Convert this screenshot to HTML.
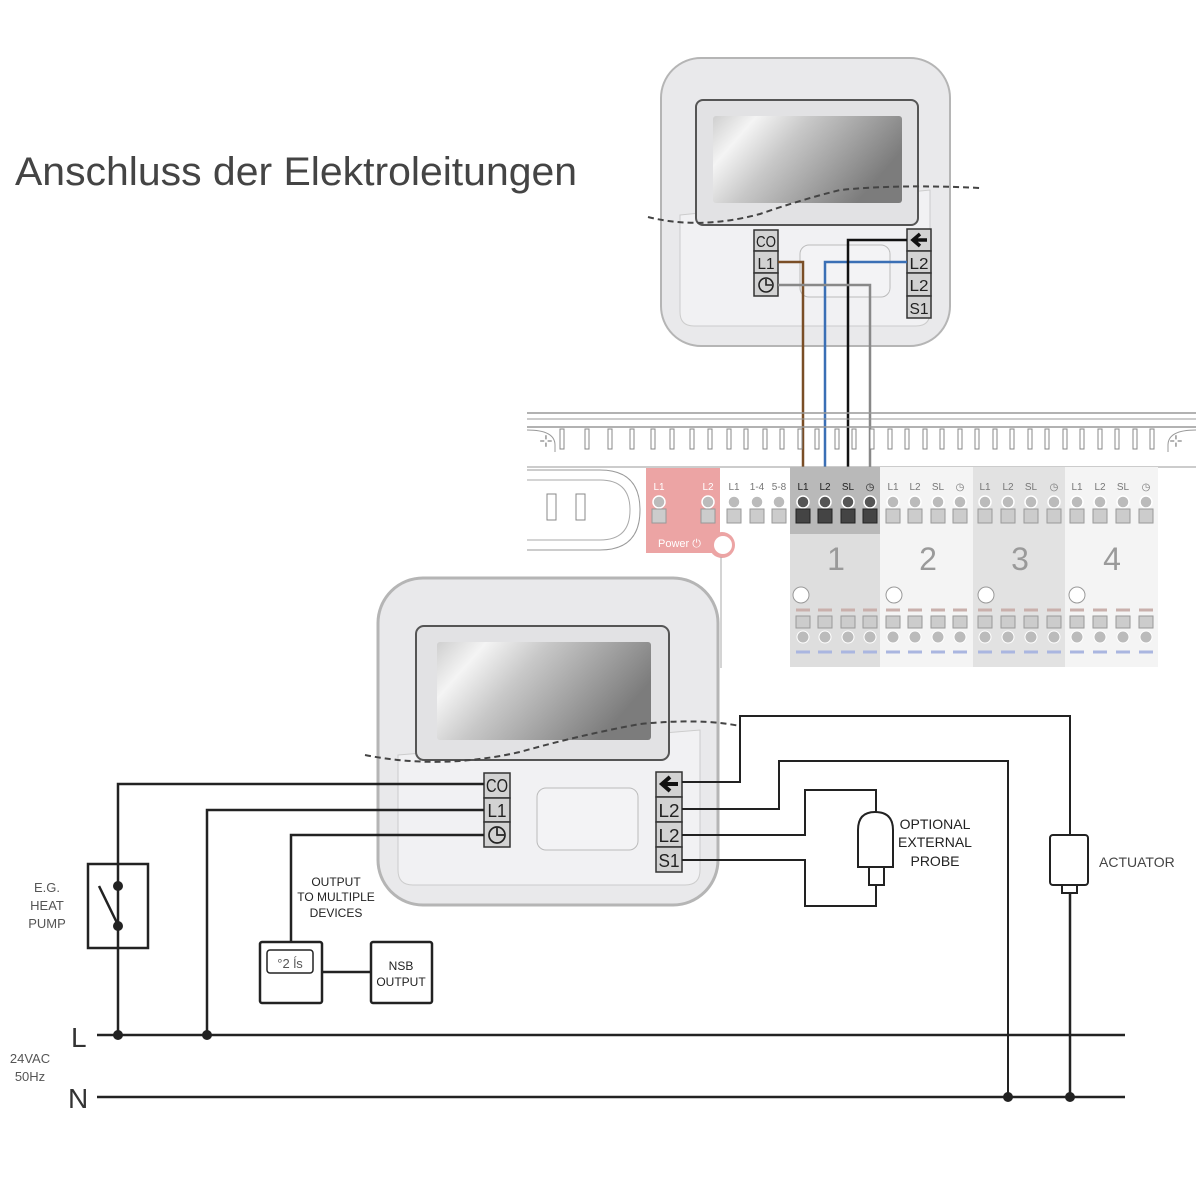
<!DOCTYPE html>
<html><head><meta charset="utf-8"><style>html,body{margin:0;padding:0;background:#fff}svg{display:block}</style></head>
<body>
<svg width="1200" height="1200" viewBox="0 0 1200 1200" xmlns="http://www.w3.org/2000/svg" font-family="Liberation Sans, sans-serif">
<defs>
<linearGradient id="scr" x1="0" y1="0" x2="1" y2="0.4">
<stop offset="0" stop-color="#cfcfcf"/><stop offset="0.2" stop-color="#f4f4f4"/><stop offset="0.45" stop-color="#c8c8c8"/><stop offset="1" stop-color="#7c7c7c"/>
</linearGradient>
</defs>
<rect width="1200" height="1200" fill="#fff"/>
<text x="15" y="185" font-size="40" fill="#444" textLength="562" lengthAdjust="spacingAndGlyphs">Anschluss der Elektroleitungen</text>

<!-- TOP DEVICE -->
<rect x="661" y="58" width="289" height="288" rx="40" fill="#e9e9eb" stroke="#b5b5b5" stroke-width="2"/>
<path d="M680 215 L930 190 L930 312 Q930 326 916 326 L694 326 Q680 326 680 312 Z" fill="#f1f1f3" stroke="#ccc"/>
<rect x="696" y="100" width="222" height="125" rx="7" fill="#e2e2e4" stroke="#555" stroke-width="2"/>
<rect x="713" y="116" width="189" height="87" rx="3" fill="url(#scr)"/>
<path d="M648 217 Q700 230 760 214 Q800 200 840 190 Q900 184 980 188" fill="none" stroke="#444" stroke-width="2" stroke-dasharray="6,4"/>
<rect x="800" y="245" width="90" height="52" rx="9" fill="#f3f3f5" stroke="#bbb"/>
<g stroke="#333" stroke-width="1.5" fill="#d2d2d2">
<rect x="754" y="230" width="24" height="21"/><rect x="754" y="251" width="24" height="22"/><rect x="754" y="273" width="24" height="23"/>
<rect x="907" y="229" width="24" height="22"/><rect x="907" y="251" width="24" height="22"/><rect x="907" y="273" width="24" height="23"/><rect x="907" y="296" width="24" height="22"/>
</g>
<g font-size="16" fill="#222" text-anchor="middle" lengthAdjust="spacingAndGlyphs">
<text x="766" y="247" textLength="20" lengthAdjust="spacingAndGlyphs">CO</text><text x="766" y="269" textLength="17" lengthAdjust="spacingAndGlyphs">L1</text>
<text x="919" y="269" textLength="19" lengthAdjust="spacingAndGlyphs">L2</text><text x="919" y="291" textLength="19" lengthAdjust="spacingAndGlyphs">L2</text><text x="919" y="314" textLength="19" lengthAdjust="spacingAndGlyphs">S1</text>
</g>
<circle cx="766" cy="285" r="7" fill="none" stroke="#222" stroke-width="1.6"/><path d="M766 279 V285 H772" fill="none" stroke="#222" stroke-width="1.6"/>
<path d="M927 240 H915 M920 234 L913 240 L920 246" fill="none" stroke="#111" stroke-width="3.5"/>
<g fill="none" stroke-width="2.5">
<path d="M778 262 H803 V512" stroke="#7a4e26"/>
<path d="M907 262 H825 V512" stroke="#3a6fb5"/>
<path d="M907 240 H848 V512" stroke="#111"/>
<path d="M778 285 H870 V512" stroke="#888"/>
</g>

<!-- STRIP -->
<g stroke="#999" fill="none">
<line x1="527" y1="413" x2="1196" y2="413" stroke-width="1.5"/>
<line x1="527" y1="419" x2="1196" y2="419"/>
<line x1="527" y1="427" x2="1196" y2="427" stroke-width="1.5"/>
<line x1="527" y1="467" x2="1196" y2="467"/>
<path d="M527 430 Q555 430 555 445 L555 452 M1196 430 Q1168 430 1168 445 L1168 452"/>
</g>
<g stroke="#888" fill="#fff" stroke-width="1">
<rect x="560" y="429" width="4" height="20"/><rect x="585" y="429" width="4" height="20"/><rect x="608" y="429" width="4" height="20"/><rect x="630" y="429" width="4" height="20"/><rect x="651" y="429" width="4" height="20"/><rect x="670" y="429" width="4" height="20"/><rect x="690" y="429" width="4" height="20"/><rect x="708" y="429" width="4" height="20"/><rect x="727" y="429" width="4" height="20"/><rect x="744" y="429" width="4" height="20"/><rect x="763" y="429" width="4" height="20"/><rect x="780" y="429" width="4" height="20"/><rect x="798" y="429" width="4" height="20"/><rect x="815" y="429" width="4" height="20"/><rect x="835" y="429" width="4" height="20"/><rect x="852" y="429" width="4" height="20"/><rect x="870" y="429" width="4" height="20"/><rect x="888" y="429" width="4" height="20"/><rect x="905" y="429" width="4" height="20"/><rect x="923" y="429" width="4" height="20"/><rect x="940" y="429" width="4" height="20"/><rect x="958" y="429" width="4" height="20"/><rect x="975" y="429" width="4" height="20"/><rect x="993" y="429" width="4" height="20"/><rect x="1010" y="429" width="4" height="20"/><rect x="1028" y="429" width="4" height="20"/><rect x="1045" y="429" width="4" height="20"/><rect x="1063" y="429" width="4" height="20"/><rect x="1080" y="429" width="4" height="20"/><rect x="1098" y="429" width="4" height="20"/><rect x="1115" y="429" width="4" height="20"/><rect x="1133" y="429" width="4" height="20"/><rect x="1150" y="429" width="4" height="20"/>
</g>
<text x="546" y="446" font-size="16" fill="#888" text-anchor="middle">⊹</text>
<text x="1176" y="446" font-size="16" fill="#888" text-anchor="middle">⊹</text>
<path d="M527 470 H600 Q640 470 640 510 Q640 550 600 550 H527" fill="#fff" stroke="#999"/>
<path d="M527 480 H600 Q630 480 630 510 Q630 540 600 540 H527" fill="none" stroke="#aaa"/>
<rect x="547" y="494" width="9" height="26" fill="#fff" stroke="#888"/><rect x="576" y="494" width="9" height="26" fill="#fff" stroke="#888"/>
<rect x="790" y="467" width="90" height="200" fill="#dedede"/>
<rect x="790" y="467" width="90" height="67" fill="#b9b9b9"/>
<rect x="880" y="467" width="93" height="200" fill="#f4f4f4"/>
<rect x="973" y="467" width="92" height="200" fill="#e2e2e2"/>
<rect x="1065" y="467" width="93" height="200" fill="#f4f4f4"/>
<path d="M646 468 H720 V553 H646 Z" fill="#eca4a4"/>
<circle cx="722" cy="545" r="13" fill="#eca4a4"/><circle cx="723" cy="545" r="9" fill="#fff"/>
<line x1="721" y1="557" x2="721" y2="668" stroke="#aaa"/>
<text x="658" y="547" font-size="11" fill="#fff">Power ⏻</text>
<g font-size="10" fill="#777" text-anchor="middle">
<text x="659" y="490" fill="#fff">L1</text><text x="708" y="490" fill="#fff">L2</text>
<text x="734" y="490">L1</text><text x="757" y="490">1-4</text><text x="779" y="490">5-8</text>
<text x="803" y="490" fill="#222">L1</text><text x="825" y="490" fill="#222">L2</text><text x="848" y="490" fill="#222">SL</text><text x="870" y="490" fill="#222">◷</text>
<text x="893" y="490">L1</text><text x="915" y="490">L2</text><text x="938" y="490">SL</text><text x="960" y="490">◷</text>
<text x="985" y="490">L1</text><text x="1008" y="490">L2</text><text x="1031" y="490">SL</text><text x="1054" y="490">◷</text>
<text x="1077" y="490">L1</text><text x="1100" y="490">L2</text><text x="1123" y="490">SL</text><text x="1146" y="490">◷</text>
</g>
<g stroke="#fff" stroke-width="1.5">
<g fill="#bbb">
<circle cx="659" cy="502" r="6"/><circle cx="708" cy="502" r="6"/><circle cx="734" cy="502" r="6"/><circle cx="757" cy="502" r="6"/><circle cx="779" cy="502" r="6"/>
<circle cx="893" cy="502" r="6"/><circle cx="915" cy="502" r="6"/><circle cx="938" cy="502" r="6"/><circle cx="960" cy="502" r="6"/><circle cx="985" cy="502" r="6"/><circle cx="1008" cy="502" r="6"/><circle cx="1031" cy="502" r="6"/><circle cx="1054" cy="502" r="6"/><circle cx="1077" cy="502" r="6"/><circle cx="1100" cy="502" r="6"/><circle cx="1123" cy="502" r="6"/><circle cx="1146" cy="502" r="6"/>
</g>
<g fill="#555"><circle cx="803" cy="502" r="6"/><circle cx="825" cy="502" r="6"/><circle cx="848" cy="502" r="6"/><circle cx="870" cy="502" r="6"/></g>
</g>
<g fill="#ccc" stroke="#999">
<rect x="652" y="509" width="14" height="14"/><rect x="701" y="509" width="14" height="14"/><rect x="727" y="509" width="14" height="14"/><rect x="750" y="509" width="14" height="14"/><rect x="772" y="509" width="14" height="14"/>
<rect x="886" y="509" width="14" height="14"/><rect x="908" y="509" width="14" height="14"/><rect x="931" y="509" width="14" height="14"/><rect x="953" y="509" width="14" height="14"/><rect x="978" y="509" width="14" height="14"/><rect x="1001" y="509" width="14" height="14"/><rect x="1024" y="509" width="14" height="14"/><rect x="1047" y="509" width="14" height="14"/><rect x="1070" y="509" width="14" height="14"/><rect x="1093" y="509" width="14" height="14"/><rect x="1116" y="509" width="14" height="14"/><rect x="1139" y="509" width="14" height="14"/>
</g>
<g fill="#444" stroke="#222"><rect x="796" y="509" width="14" height="14"/><rect x="818" y="509" width="14" height="14"/><rect x="841" y="509" width="14" height="14"/><rect x="863" y="509" width="14" height="14"/></g>
<g font-size="32" fill="#9a9a9a" text-anchor="middle">
<text x="836" y="570">1</text><text x="928" y="570">2</text><text x="1020" y="570">3</text><text x="1112" y="570">4</text>
</g>
<g fill="#fff" stroke="#999"><circle cx="801" cy="595" r="8"/><circle cx="894" cy="595" r="8"/><circle cx="986" cy="595" r="8"/><circle cx="1077" cy="595" r="8"/></g>
<g stroke="#c9b0ac" stroke-width="3"><path d="M796 610h14M818 610h14M841 610h14M863 610h14M886 610h14M908 610h14M931 610h14M953 610h14M978 610h14M1001 610h14M1024 610h14M1047 610h14M1070 610h14M1093 610h14M1116 610h14M1139 610h14"/></g>
<g stroke="#aab6e0" stroke-width="3"><path d="M796 652h14M818 652h14M841 652h14M863 652h14M886 652h14M908 652h14M931 652h14M953 652h14M978 652h14M1001 652h14M1024 652h14M1047 652h14M1070 652h14M1093 652h14M1116 652h14M1139 652h14"/></g>
<g fill="#ccc" stroke="#999"><rect x="796" y="616" width="14" height="12"/><rect x="818" y="616" width="14" height="12"/><rect x="841" y="616" width="14" height="12"/><rect x="863" y="616" width="14" height="12"/><rect x="886" y="616" width="14" height="12"/><rect x="908" y="616" width="14" height="12"/><rect x="931" y="616" width="14" height="12"/><rect x="953" y="616" width="14" height="12"/><rect x="978" y="616" width="14" height="12"/><rect x="1001" y="616" width="14" height="12"/><rect x="1024" y="616" width="14" height="12"/><rect x="1047" y="616" width="14" height="12"/><rect x="1070" y="616" width="14" height="12"/><rect x="1093" y="616" width="14" height="12"/><rect x="1116" y="616" width="14" height="12"/><rect x="1139" y="616" width="14" height="12"/></g>
<g fill="#bbb" stroke="#fff"><circle cx="803" cy="637" r="6"/><circle cx="825" cy="637" r="6"/><circle cx="848" cy="637" r="6"/><circle cx="870" cy="637" r="6"/><circle cx="893" cy="637" r="6"/><circle cx="915" cy="637" r="6"/><circle cx="938" cy="637" r="6"/><circle cx="960" cy="637" r="6"/><circle cx="985" cy="637" r="6"/><circle cx="1008" cy="637" r="6"/><circle cx="1031" cy="637" r="6"/><circle cx="1054" cy="637" r="6"/><circle cx="1077" cy="637" r="6"/><circle cx="1100" cy="637" r="6"/><circle cx="1123" cy="637" r="6"/><circle cx="1146" cy="637" r="6"/></g>

<!-- BOTTOM DEVICE -->
<rect x="378" y="578" width="340" height="327" rx="45" fill="#e9e9eb" stroke="#b5b5b5" stroke-width="3"/>
<path d="M398 755 L700 730 L700 870 Q700 885 685 885 L413 885 Q398 885 398 870 Z" fill="#f1f1f3" stroke="#ccc"/>
<rect x="416" y="626" width="253" height="134" rx="8" fill="#e2e2e4" stroke="#555" stroke-width="2"/>
<rect x="437" y="642" width="214" height="98" rx="3" fill="url(#scr)"/>
<path d="M365 755 Q440 770 520 752 Q580 735 640 724 Q700 718 740 726" fill="none" stroke="#444" stroke-width="2" stroke-dasharray="6,4"/>
<rect x="537" y="788" width="101" height="62" rx="9" fill="#f3f3f5" stroke="#bbb"/>
<g stroke="#333" stroke-width="1.5" fill="#d2d2d2">
<rect x="484" y="773" width="26" height="25"/><rect x="484" y="798" width="26" height="24"/><rect x="484" y="822" width="26" height="25"/>
<rect x="656" y="772" width="26" height="25"/><rect x="656" y="797" width="26" height="25"/><rect x="656" y="822" width="26" height="25"/><rect x="656" y="847" width="26" height="25"/>
</g>
<g font-size="18" fill="#222" text-anchor="middle">
<text x="497" y="792" textLength="22" lengthAdjust="spacingAndGlyphs">CO</text><text x="497" y="817" textLength="19" lengthAdjust="spacingAndGlyphs">L1</text>
<text x="669" y="817" textLength="21" lengthAdjust="spacingAndGlyphs">L2</text><text x="669" y="842" textLength="21" lengthAdjust="spacingAndGlyphs">L2</text><text x="669" y="867" textLength="21" lengthAdjust="spacingAndGlyphs">S1</text>
</g>
<circle cx="497" cy="835" r="8" fill="none" stroke="#222" stroke-width="1.7"/><path d="M497 828 V835 H504" fill="none" stroke="#222" stroke-width="1.7"/>
<path d="M678 784 H664 M670 777 L662 784 L670 791" fill="none" stroke="#111" stroke-width="4"/>

<!-- SCHEMATIC -->
<g fill="none" stroke="#222" stroke-width="2.5">
<path d="M484 784 H118 V1035"/>
<path d="M484 810 H207 V1035"/>
<path d="M484 835 H291 V942"/>
<line x1="97" y1="1035" x2="1125" y2="1035"/>
<line x1="97" y1="1097" x2="1125" y2="1097"/>
<rect x="88" y="864" width="60" height="84"/>
<line x1="99" y1="886" x2="118" y2="925"/>
<rect x="260" y="942" width="62" height="61" rx="2"/>
<rect x="371" y="942" width="61" height="61" rx="2"/>
<line x1="322" y1="972" x2="371" y2="972"/>
</g>
<g fill="none" stroke="#222" stroke-width="2">
<path d="M682 782 H740 V716 H1070 V835"/>
<path d="M682 809 H779 V761 H1008 V1097"/>
<path d="M682 835 H805 V790 H876 V812"/>
<path d="M682 860 H805 V906 H876 V885"/>
<path d="M858 867 V830 Q858 812 875 812 Q893 812 893 830 V867 Z"/>
<rect x="869" y="867" width="15" height="18"/>
<rect x="1050" y="835" width="38" height="50" rx="3"/>
<rect x="1062" y="885" width="15" height="8"/>
<line x1="1070" y1="893" x2="1070" y2="1097" stroke-width="2.5"/>
</g>
<rect x="267" y="950" width="46" height="23" rx="3" fill="none" stroke="#222" stroke-width="1.5"/>
<text x="290" y="968" font-size="13" fill="#555" text-anchor="middle">°2 ĺs</text>
<g fill="#222">
<circle cx="118" cy="886" r="5"/><circle cx="118" cy="926" r="5"/>
<circle cx="118" cy="1035" r="5"/><circle cx="207" cy="1035" r="5"/>
<circle cx="1008" cy="1097" r="5"/><circle cx="1070" cy="1097" r="5"/>
</g>
<g font-size="12" fill="#222" text-anchor="middle">
<text x="336" y="886">OUTPUT</text><text x="336" y="901">TO MULTIPLE</text><text x="336" y="917">DEVICES</text>
<text x="401" y="970">NSB</text><text x="401" y="986">OUTPUT</text>
<text x="935" y="829" font-size="14">OPTIONAL</text><text x="935" y="847" font-size="14">EXTERNAL</text><text x="935" y="866" font-size="14">PROBE</text>
</g>
<g font-size="13" fill="#555" text-anchor="middle">
<text x="47" y="892">E.G.</text><text x="47" y="910">HEAT</text><text x="47" y="928">PUMP</text>
<text x="30" y="1063">24VAC</text><text x="30" y="1081">50Hz</text>
</g>
<text x="1099" y="867" font-size="14" fill="#444">ACTUATOR</text>
<text x="71" y="1047" font-size="28" fill="#333">L</text>
<text x="68" y="1108" font-size="28" fill="#333">N</text>
</svg>
</body></html>
